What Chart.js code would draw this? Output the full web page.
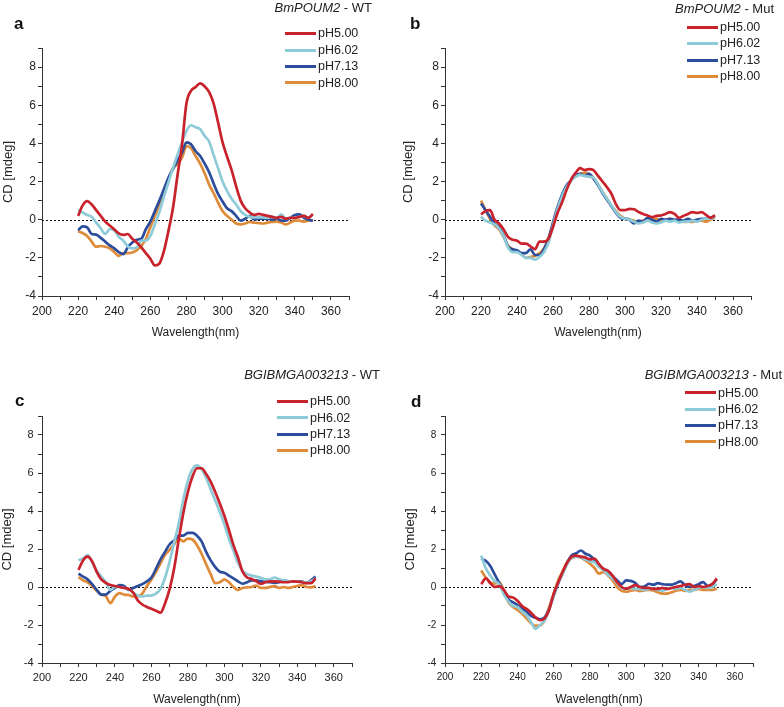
<!DOCTYPE html>
<html>
<head>
<meta charset="utf-8">
<script src="https://cdn.jsdelivr.net/npm/chart.js@4.4.0/dist/chart.umd.min.js"></script>
<style>
  html, body { margin:0; padding:0; background:#fff; }
  body { width:784px; height:707px; position:relative; overflow:hidden; font-family:"Liberation Sans", Arial, sans-serif; color:#222; }
  .pane { position:absolute; }
  .pane canvas { display:block; }
  .ptitle { position:absolute; font-size:13px; line-height:13px; white-space:nowrap; color:#222; }
  .letter { position:absolute; font-size:17px; line-height:17px; font-weight:bold; color:#111; }
  .lrow { position:absolute; height:16px; display:flex; align-items:center; white-space:nowrap; font-size:12.5px; color:#222; }
  .lrow span.ln { display:inline-block; width:31px; height:3px; margin-right:2px; }
</style>
</head>
<body>
<script>
// ---------------- DATA ----------------
const wavelengths = [220,222.5,225,227.5,230,232.5,235,237.5,240,242.5,245,247.5,250,252.5,255,257.5,260,262.5,265,267.5,270,272.5,275,277.5,280,282.5,285,287.5,290,292.5,295,297.5,300,302.5,305,307.5,310,312.5,315,317.5,320,322.5,325,327.5,330,332.5,335,337.5,340,342.5,345,347.5,350];
const seriesNames = ['pH5.00','pH6.02','pH7.13','pH8.00'];
const seriesColors = ['#c8232c','#8ecbd9','#2c4d9b','#de8b3a'];
const xTickLabels = [200,220,240,260,280,300,320,340,360];
const yTickLabels = [-4,-2,0,2,4,6,8];
const yAxisTitle = 'CD [mdeg]';
const xAxisTitle = 'Wavelength(nm)';

// Panel a: BmPOUM2 - WT
const aPH500 = [0.2,0.75,0.97,0.8,0.5,0.2,-0.1,-0.3,-0.5,-0.72,-0.8,-0.75,-1.0,-1.2,-1.45,-1.75,-2.05,-2.4,-2.3,-1.65,-0.6,0.6,2.3,3.9,6.1,6.75,6.95,7.15,7.0,6.7,6.1,5.1,4.05,3.3,2.6,1.75,1.0,0.6,0.38,0.25,0.3,0.25,0.2,0.15,0.1,0.15,0.05,0.1,0.1,0.15,0.2,0.1,0.3];
const aPH602 = [0.5,0.38,0.25,0.15,-0.15,-0.45,-0.75,-0.5,-0.55,-0.9,-1.1,-1.4,-1.5,-1.45,-1.1,-1.1,-0.85,-0.25,0.4,1.2,1.95,2.7,3.4,4.05,4.65,4.95,4.85,4.75,4.4,4.1,3.4,2.7,2.0,1.5,1.1,0.8,0.45,0.25,0.15,0.12,0.12,0.12,0.1,0.15,0.1,0.28,0.05,0.1,0.1,0.15,0.2,0.1,0.28];
const aPH713 = [-0.55,-0.35,-0.4,-0.75,-0.78,-0.95,-1.15,-1.35,-1.5,-1.7,-1.8,-1.45,-1.2,-1.05,-1.0,-0.5,-0.1,0.45,1.0,1.6,2.2,2.65,3.1,3.5,4.05,3.95,3.6,3.35,2.95,2.5,1.9,1.35,0.95,0.6,0.45,0.2,-0.05,0.05,0.2,0.0,0.05,0.05,0.05,0.0,0.05,-0.05,-0.05,0.1,0.25,0.28,0.1,0.0,-0.05];
const aPH800 = [-0.6,-0.7,-0.85,-1.15,-1.42,-1.38,-1.42,-1.5,-1.7,-1.9,-1.75,-1.75,-1.72,-1.6,-1.38,-1.0,-0.4,0.2,0.8,1.4,2.1,2.7,2.9,3.25,3.85,3.75,3.35,2.95,2.45,1.85,1.4,0.9,0.45,0.2,0.0,-0.2,-0.25,-0.2,-0.12,-0.15,-0.18,-0.2,-0.15,-0.12,-0.1,-0.15,-0.25,-0.15,-0.05,-0.05,-0.1,-0.05,-0.05];

// Panel b: BmPOUM2 - Mut
const bPH500 = [0.28,0.45,0.5,0.0,-0.2,-0.5,-0.9,-1.05,-1.1,-1.25,-1.25,-1.4,-1.55,-1.15,-1.15,-1.0,-0.38,0.35,0.9,1.55,2.1,2.45,2.7,2.6,2.65,2.6,2.3,2.0,1.7,1.35,0.8,0.5,0.5,0.57,0.55,0.4,0.3,0.22,0.14,0.2,0.22,0.3,0.4,0.3,0.1,0.2,0.3,0.4,0.35,0.4,0.25,0.1,0.23];
const bPH602 = [0.15,-0.05,-0.15,-0.25,-0.45,-0.85,-1.45,-1.7,-1.7,-1.85,-2.0,-2.0,-2.1,-1.95,-1.7,-1.2,-0.3,0.55,1.2,1.7,2.05,2.25,2.35,2.3,2.25,2.2,1.85,1.45,1.1,0.75,0.4,0.15,0.05,0.0,-0.1,-0.2,-0.15,-0.05,-0.15,-0.2,-0.15,-0.05,-0.1,-0.05,-0.15,-0.1,-0.1,-0.05,-0.1,0.0,0.05,0.05,0.15];
const bPH713 = [0.85,0.5,0.15,-0.2,-0.4,-0.8,-1.4,-1.55,-1.6,-1.75,-1.75,-1.55,-1.85,-1.85,-1.55,-1.0,-0.15,0.65,1.3,1.8,2.05,2.3,2.4,2.3,2.4,2.15,1.8,1.4,1.05,0.7,0.35,0.1,0.05,0.0,-0.2,-0.05,-0.1,0.1,0.0,-0.1,0.05,0.0,0.05,0.0,0.0,-0.05,0.05,-0.05,0.0,0.05,0.05,0.1,0.2];
const bPH800 = [1.0,0.5,0.05,-0.3,-0.5,-0.9,-1.35,-1.55,-1.65,-1.8,-2.0,-1.95,-1.9,-1.75,-1.5,-0.95,-0.2,0.62,1.2,1.7,2.05,2.3,2.4,2.45,2.4,2.2,1.85,1.45,1.1,0.73,0.45,0.2,0.05,0.0,-0.05,-0.12,-0.05,0.0,0.0,0.05,-0.05,0.0,0.05,-0.05,-0.05,-0.12,-0.1,-0.12,-0.05,-0.05,-0.1,0.0,0.1];

// Panel c: BGIBMGA003213 - WT
const cPH500 = [0.9,1.4,1.6,1.35,0.8,0.4,0.22,0.1,0.05,0.0,-0.05,-0.1,-0.3,-0.7,-0.92,-1.05,-1.15,-1.25,-1.35,-0.85,-0.1,1.0,2.5,3.9,5.0,5.8,6.25,6.25,5.95,5.55,5.0,4.4,3.75,3.0,2.2,1.55,0.8,0.5,0.42,0.3,0.17,0.25,0.3,0.3,0.28,0.25,0.26,0.3,0.28,0.25,0.2,0.2,0.45];
const cPH602 = [1.4,1.5,1.68,1.3,0.85,0.55,0.25,-0.15,0.0,0.0,-0.05,-0.1,-0.3,-0.45,-0.5,-0.45,-0.45,-0.35,-0.1,0.5,1.35,2.35,3.35,4.6,5.6,6.2,6.4,6.2,5.75,5.15,4.55,3.95,3.3,2.55,1.9,1.25,0.85,0.68,0.6,0.55,0.48,0.4,0.4,0.5,0.4,0.35,0.3,0.3,0.3,0.25,0.25,0.3,0.45];
const cPH713 = [0.7,0.55,0.4,0.15,-0.15,-0.4,-0.4,-0.2,-0.05,0.1,0.05,-0.15,-0.05,0.05,0.15,0.3,0.5,0.95,1.45,1.85,2.25,2.45,2.7,2.7,2.85,2.85,2.7,2.4,1.85,1.4,1.05,0.8,0.75,0.6,0.45,0.3,0.17,0.25,0.35,0.35,0.3,0.28,0.25,0.22,0.25,0.35,0.3,0.3,0.3,0.28,0.22,0.35,0.55];
const cPH800 = [0.52,0.35,0.25,0.05,-0.2,-0.4,-0.48,-0.85,-0.5,-0.32,-0.4,-0.42,-0.5,-0.5,-0.35,0.05,0.4,0.8,1.25,1.7,1.95,2.25,2.55,2.4,2.55,2.5,2.2,1.75,1.2,0.68,0.2,0.25,0.4,0.25,0.0,-0.15,-0.05,-0.02,0.0,0.08,-0.05,-0.05,0.0,0.05,-0.05,0.0,-0.05,0.0,0.05,0.1,0.0,-0.02,0.05];

// Panel d: BGIBMGA003213 - Mut
const dPH500 = [0.15,0.45,0.2,0.0,0.05,-0.15,-0.5,-0.55,-0.72,-1.0,-1.15,-1.35,-1.6,-1.75,-1.65,-1.2,-0.35,0.25,0.8,1.3,1.6,1.65,1.6,1.55,1.45,1.5,1.2,0.95,0.85,0.6,0.25,0.0,-0.1,0.0,0.1,0.0,-0.05,-0.05,-0.1,-0.1,-0.05,-0.1,-0.05,0.0,0.05,0.12,0.15,0.0,0.05,0.0,0.05,0.15,0.45];
const dPH602 = [1.65,1.0,0.6,0.3,0.15,-0.4,-0.75,-1.0,-1.05,-1.3,-1.5,-1.85,-2.2,-2.0,-1.75,-1.2,-0.4,0.25,0.7,1.2,1.55,1.6,1.55,1.45,1.35,1.3,1.05,0.9,0.65,0.45,0.2,-0.05,-0.1,-0.05,-0.1,-0.1,-0.15,-0.1,-0.1,-0.15,-0.2,-0.1,-0.05,-0.1,-0.05,-0.15,-0.25,-0.15,-0.05,0.0,-0.05,0.0,0.15];
const dPH713 = [1.5,1.38,1.1,0.65,0.2,-0.25,-0.65,-0.8,-0.95,-1.12,-1.3,-1.52,-1.62,-1.7,-1.6,-1.15,-0.45,0.2,0.75,1.3,1.68,1.78,1.92,1.75,1.65,1.42,1.1,0.95,0.8,0.55,0.35,0.15,0.35,0.32,0.22,0.0,0.02,0.17,0.12,0.2,0.15,0.12,0.12,0.2,0.3,0.1,0.0,0.05,0.15,0.26,0.05,0.15,0.4];
const dPH800 = [0.87,0.5,0.25,0.18,0.25,-0.2,-0.8,-1.05,-1.2,-1.4,-1.65,-1.9,-2.05,-2.02,-1.75,-1.05,-0.35,0.35,0.85,1.3,1.52,1.6,1.55,1.4,1.22,1.0,0.7,0.8,0.6,0.35,0.0,-0.2,-0.25,-0.2,-0.15,-0.22,-0.18,-0.15,-0.18,-0.28,-0.35,-0.35,-0.28,-0.2,-0.15,-0.2,-0.15,-0.15,-0.1,-0.15,-0.15,-0.15,-0.09];

const panelTitles = [
  {gene:'BmPOUM2', suffix:' - WT'},
  {gene:'BmPOUM2', suffix:' - Mut'},
  {gene:'BGIBMGA003213', suffix:' - WT'},
  {gene:'BGIBMGA003213', suffix:' - Mut'}
];
const panelLetters = ['a','b','c','d'];

// ---------------- LAYOUT ----------------
const FONT = '"Liberation Sans", Arial, sans-serif';
const panels = [
  {x:0,   y:0,   w:392, h:350, ca:{left:42, top:48, right:349, bottom:296}, fs:12, yPad:2,   yTitlePad:0.5,
   series:[aPH500,aPH602,aPH713,aPH800], titleRight:372, titleTop:1,   letterLeft:14,  letterTop:15,
   legendX:285, legendRows:[33.3,50,66.3,82.7]},
  {x:392, y:0,   w:392, h:350, ca:{left:53, top:48, right:359, bottom:296}, fs:12, yPad:2,   yTitlePad:9,
   series:[bPH500,bPH602,bPH713,bPH800], titleRight:774, titleTop:2.3, letterLeft:410, letterTop:15,
   legendX:687, legendRows:[27.3,43.3,60,76.3]},
  {x:0,   y:350, w:392, h:357, ca:{left:42, top:66, right:352, bottom:313}, fs:11, yPad:4.4, yTitlePad:0,
   series:[cPH500,cPH602,cPH713,cPH800], titleRight:380, titleTop:368.3, letterLeft:15, letterTop:392.3,
   legendX:277, legendRows:[401,417.7,434,450]},
  {x:392, y:350, w:392, h:357, ca:{left:53, top:66, right:361, bottom:313}, fs:10, yPad:4.7, yTitlePad:10.5,
   series:[dPH500,dPH602,dPH713,dPH800], titleRight:782, titleTop:368, letterLeft:411, letterTop:393,
   legendX:685, legendRows:[392.7,409,425.3,441.7]}
];
const X_AXIS_H = 44;

const zeroLine = {
  id:'zeroLine',
  beforeDatasetsDraw(chart){
    const {ctx, chartArea, scales} = chart;
    const py = Math.round(scales.y.getPixelForValue(0)) + 0.5;
    ctx.save();
    ctx.setLineDash([2,2]);
    ctx.strokeStyle = '#111';
    ctx.lineWidth = 1;
    ctx.beginPath();
    ctx.moveTo(chartArea.left, py);
    ctx.lineTo(chartArea.right, py);
    ctx.stroke();
    ctx.restore();
  }
};

panels.forEach((p, idx) => {
  const div = document.createElement('div');
  div.className = 'pane';
  div.style.left = p.x + 'px'; div.style.top = p.y + 'px';
  div.style.width = p.w + 'px'; div.style.height = p.h + 'px';
  const cv = document.createElement('canvas');
  cv.width = p.w; cv.height = p.h;
  cv.style.width = p.w + 'px'; cv.style.height = p.h + 'px';
  div.appendChild(cv);
  document.body.appendChild(div);

  new Chart(cv, {
    type:'line',
    data:{
      datasets: p.series.map((vals, i) => ({
        label: seriesNames[i],
        data: wavelengths.map((w, j) => ({x:w, y:vals[j]})),
        borderColor: seriesColors[i],
        backgroundColor: seriesColors[i],
        borderWidth: 2.7,
        pointRadius: 0,
        fill: false,
        cubicInterpolationMode: 'monotone'
      }))
    },
    options:{
      responsive:false, animation:false, devicePixelRatio:1, events:[],
      layout:{padding:{left:0, top:p.ca.top, right:p.w - p.ca.right, bottom:p.h - p.ca.bottom - X_AXIS_H}},
      plugins:{legend:{display:false}, tooltip:{enabled:false}, title:{display:false}},
      scales:{
        x:{
          type:'linear', min:200, max:370,
          afterFit(s){ s.height = X_AXIS_H; },
          afterBuildTicks(s){ s.ticks = s.ticks.filter(t => Math.abs(t.value % 10) < 1e-6); },
          ticks:{stepSize:10, autoSkip:false, maxRotation:0, minRotation:0, padding:4, color:'#222',
                 font:{family:FONT, size:p.fs},
                 callback:(v) => xTickLabels.includes(v) ? String(v) : ''},
          grid:{drawOnChartArea:false, drawTicks:true, tickLength:4, tickColor:'#333', tickWidth:1},
          border:{display:true, color:'#333', width:1},
          title:{display:true, text:xAxisTitle, color:'#222', font:{family:FONT, size:12}, padding:{top:0, bottom:0}}
        },
        y:{
          type:'linear', min:-4, max:9,
          afterFit(s){ s.width = p.ca.left; },
          ticks:{stepSize:1, autoSkip:false, padding:p.yPad, color:'#222',
                 font:{family:FONT, size:p.fs},
                 callback:(v) => yTickLabels.includes(v) ? String(v) : ''},
          grid:{drawOnChartArea:false, drawTicks:true, tickLength:4, tickColor:'#333', tickWidth:1},
          border:{display:true, color:'#333', width:1},
          title:{display:true, text:yAxisTitle, color:'#222', font:{family:FONT, size:13}, padding:{top:p.yTitlePad, bottom:0}}
        }
      }
    },
    plugins:[zeroLine]
  });

  // panel title
  const t = document.createElement('div');
  t.className = 'ptitle';
  t.style.right = (784 - p.titleRight) + 'px';
  t.style.top = p.titleTop + 'px';
  const gi = document.createElement('i'); gi.textContent = panelTitles[idx].gene;
  t.appendChild(gi); t.appendChild(document.createTextNode(panelTitles[idx].suffix));
  document.body.appendChild(t);

  // panel letter
  const l = document.createElement('div');
  l.className = 'letter';
  l.style.left = p.letterLeft + 'px'; l.style.top = p.letterTop + 'px';
  l.textContent = panelLetters[idx];
  document.body.appendChild(l);

  // legend
  seriesNames.forEach((name, i) => {
    const r = document.createElement('div');
    r.className = 'lrow';
    r.style.left = p.legendX + 'px';
    r.style.top = (p.legendRows[i] - 8) + 'px';
    const ln = document.createElement('span'); ln.className = 'ln'; ln.style.background = seriesColors[i];
    const tx = document.createElement('span'); tx.textContent = name;
    r.appendChild(ln); r.appendChild(tx);
    document.body.appendChild(r);
  });
});
</script>
</body>
</html>
